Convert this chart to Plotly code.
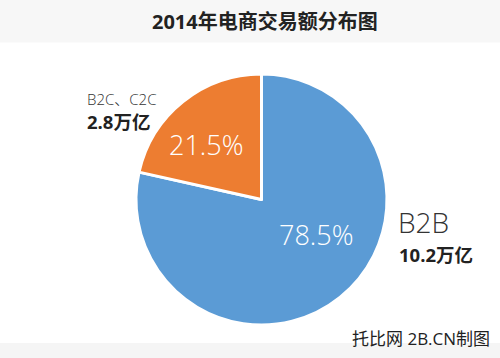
import plotly.graph_objects as go

labels = ["B2B", "B2C、C2C"]
shares = [78.5, 21.5]
amounts = ["10.2万亿", "2.8万亿"]
colors = ["#5B9BD5", "#ED7D31"]
title_text = "2014年电商交易额分布图"
source_text = "托比网 2B.CN制图"

W, H = 500, 358
cx, cy, r = 261.5, 199.5, 125.5

fig = go.Figure(go.Pie(
    labels=labels,
    values=shares,
    sort=False,
    direction="clockwise",
    rotation=0,
    marker=dict(colors=colors, line=dict(color="white", width=3)),
    textinfo="none",
    hoverinfo="skip",
    showlegend=False,
    domain=dict(x=[(cx - r) / W, (cx + r) / W],
                y=[(H - cy - r) / H, (H - cy + r) / H]),
))

shapes = [
    dict(type="rect", xref="paper", yref="paper", x0=0, x1=1, y0=1 - 42.5 / H, y1=1,
         fillcolor="#F7F7F7", line=dict(width=0), layer="below"),
    dict(type="rect", xref="paper", yref="paper", x0=0, x1=1, y0=0, y1=15 / H,
         fillcolor="#F5F5F5", line=dict(width=0), layer="below"),
]

ff = "Open Sans, Noto Sans CJK SC, sans-serif"
pct_pos = [(316, 235), (206, 144)]
annotations = [
    dict(text=f"<b>{title_text}</b>", x=265 / W, y=1 - 22 / H, xanchor="center", yanchor="middle",
         font=dict(size=20, color="#222222", family=ff)),
    dict(text=labels[1], x=85 / W, y=1 - 99 / H, xanchor="left", yanchor="middle",
         font=dict(size=15, color="#333333", family=ff, weight=300)),
    dict(text=f"<b>{amounts[1]}</b>", x=85 / W, y=1 - 122 / H, xanchor="left", yanchor="middle",
         font=dict(size=18.5, color="#222222", family=ff)),
    dict(text=labels[0], x=396 / W, y=1 - 222 / H, xanchor="left", yanchor="middle",
         font=dict(size=28, color="#333333", family=ff, weight=300)),
    dict(text=f"<b>{amounts[0]}</b>", x=397 / W, y=1 - 254 / H, xanchor="left", yanchor="middle",
         font=dict(size=18.5, color="#222222", family=ff)),
    dict(text=source_text, x=492 / W, y=1 - 338 / H, xanchor="right", yanchor="middle",
         font=dict(size=17, color="#222222", family=ff)),
]
for (px, py), v in zip(pct_pos, shares):
    annotations.append(dict(text=f"{v}%", x=px / W, y=1 - py / H, xanchor="center", yanchor="middle",
                            font=dict(size=27, color="white", family=ff, weight=300)))
for a in annotations:
    a.update(xref="paper", yref="paper", showarrow=False)

fig.update_layout(
    width=W, height=H,
    margin=dict(l=0, r=0, t=0, b=0),
    paper_bgcolor="white", plot_bgcolor="white",
    shapes=shapes, annotations=annotations,
)

fig.write_html("out.html")
